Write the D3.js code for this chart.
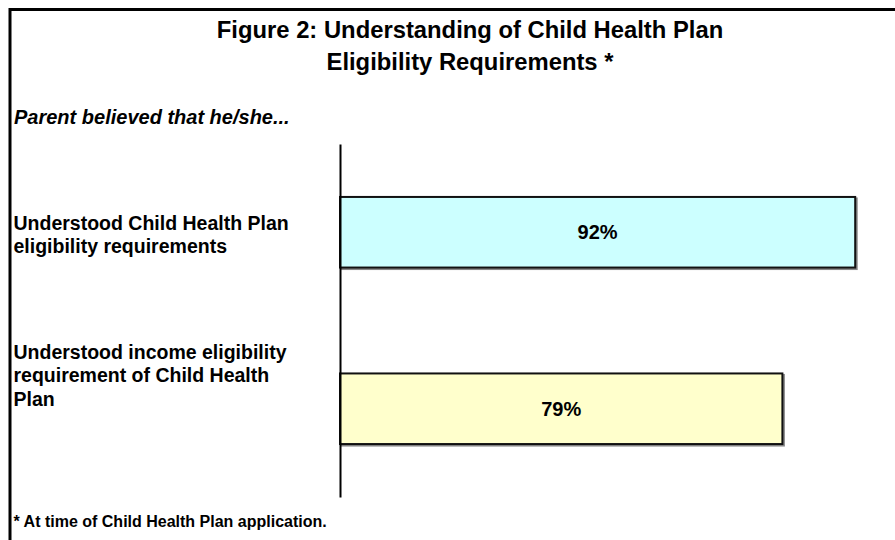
<!DOCTYPE html>
<html>
<head>
<meta charset="utf-8">
<script src="https://cdn.jsdelivr.net/npm/d3@7"></script>
<style>
  html, body { margin: 0; padding: 0; background: #fff; }
  svg { display: block; font-family: "Liberation Sans", Arial, sans-serif; }
</style>
</head>
<body>
<svg id="chart" width="895" height="540"></svg>
<script>
// Survey results: share of parents reporting each belief
const categories = [
  ["Understood Child Health Plan", "eligibility requirements"],
  ["Understood income eligibility", "requirement of Child Health", "Plan"]
];
const values = [92, 79];
const valueLabels = ["92%", "79%"];
const barColors = ["#CCFFFF", "#FFFFCC"];
const titleLines = ["Figure 2: Understanding of Child Health Plan", "Eligibility Requirements *"];
const subtitle = "Parent believed that he/she...";
const footnote = "* At time of Child Health Plan application.";

const svg = d3.select("#chart");

// outer frame (runs past the right and bottom edges)
svg.append("rect")
  .attr("x", 10).attr("y", 9.5)
  .attr("width", 900).attr("height", 560)
  .attr("fill", "none").attr("stroke", "#000").attr("stroke-width", 3);

// title
svg.append("g").selectAll("text").data(titleLines).join("text")
  .attr("x", 470).attr("y", (d, i) => 37.5 + i * 32)
  .attr("text-anchor", "middle")
  .attr("font-size", 23.8).attr("font-weight", "bold")
  .text(d => d);

svg.append("text")
  .attr("x", 14).attr("y", 124)
  .attr("font-size", 20).attr("font-weight", "bold").attr("font-style", "italic")
  .text(subtitle);

// scales
const axisX = 340;
const x = d3.scaleLinear().domain([0, 100]).range([axisX, axisX + 560]);
const y = d3.scaleBand().domain(d3.range(values.length))
  .range([144, 497]).paddingInner(0.6).paddingOuter(0.3);

// bars with a grey drop shadow
const bars = svg.append("g");
bars.selectAll("rect.shadow").data(values).join("rect")
  .attr("class", "shadow")
  .attr("x", x(0) + 1.5).attr("y", (d, i) => y(i) + 1.5)
  .attr("width", d => x(d) - x(0)).attr("height", y.bandwidth())
  .attr("fill", "none").attr("stroke", "#888").attr("stroke-width", 2);
bars.selectAll("rect.bar").data(values).join("rect")
  .attr("class", "bar")
  .attr("x", x(0)).attr("y", (d, i) => y(i))
  .attr("width", d => x(d) - x(0)).attr("height", y.bandwidth())
  .attr("fill", (d, i) => barColors[i]).attr("stroke", "#111").attr("stroke-width", 2);

// value labels
svg.append("g").selectAll("text").data(values).join("text")
  .attr("x", d => (x(0) + x(d)) / 2)
  .attr("y", (d, i) => y(i) + y.bandwidth() / 2 + 7)
  .attr("text-anchor", "middle")
  .attr("font-size", 20).attr("font-weight", "bold")
  .text((d, i) => valueLabels[i]);

// vertical category axis
const axis = d3.axisLeft(y).tickSize(0).tickFormat(() => "");
const axisG = svg.append("g").attr("transform", `translate(${axisX},0)`).call(axis);
axisG.select(".domain").attr("stroke", "#000").attr("stroke-width", 2);

// category labels
const labelTop = [229.5, 358.5];
const catG = svg.append("g");
categories.forEach((lines, i) => {
  catG.append("text")
    .attr("font-size", 19.5).attr("font-weight", "bold")
    .selectAll("tspan").data(lines).join("tspan")
    .attr("x", 13.5).attr("y", (d, j) => labelTop[i] + j * 23.5)
    .text(d => d);
});

svg.append("text")
  .attr("x", 13.5).attr("y", 526.5)
  .attr("font-size", 16).attr("font-weight", "bold")
  .text(footnote);
</script>
</body>
</html>
